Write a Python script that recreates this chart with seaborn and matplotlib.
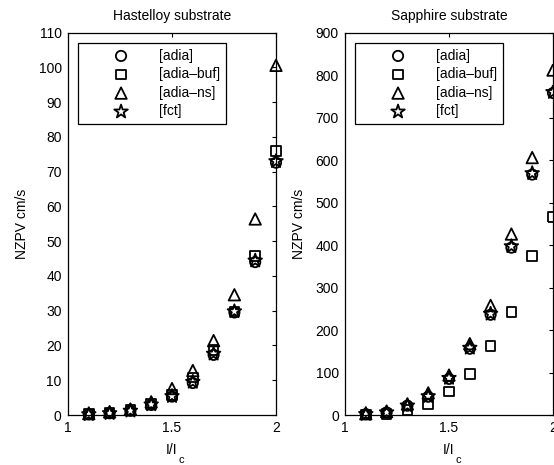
import matplotlib
matplotlib.use("Agg")
import matplotlib.pyplot as plt
import seaborn as sns
import pandas as pd

# ---- data ----
current_ratio = [1.1, 1.2, 1.3, 1.4, 1.5, 1.6, 1.7, 1.8, 1.9, 2.0]

hast_adia     = [0.2, 0.5, 1.2, 2.9, 5.3, 9.2, 17.3, 29.5, 44.0, 72.6]
hast_adia_buf = [0.3, 0.6, 1.4, 3.1, 5.7, 10.8, 18.7, 29.8, 45.8, 76.0]
hast_adia_ns  = [0.4, 0.9, 1.7, 3.8, 7.6, 12.8, 21.4, 34.6, 56.4, 100.6]
hast_fct      = [0.2, 0.5, 1.2, 3.0, 5.4, 9.5, 17.6, 29.8, 44.4, 73.0]

sapp_adia     = [2, 6, 22, 43, 85, 156, 236, 394, 566, 758]
sapp_adia_buf = [1, 3, 12, 26, 55, 97, 163, 242, 374, 466]
sapp_adia_ns  = [3, 8, 26, 52, 94, 168, 258, 426, 606, 812]
sapp_fct      = [2, 6, 22, 44, 87, 158, 238, 397, 569, 760]

series_labels = ["[adia]", "[adia\u2013buf]", "[adia\u2013ns]", "[fct]"]
series_markers = ["o", "s", "^", "*"]
titles = ["Hastelloy substrate", "Sapphire substrate"]
y_limits = [(0, 110), (0, 900)]
y_steps = [10, 100]
x_ticks = [1, 1.5, 2]
x_ticklabels = ["1", "1.5", "2"]

panels = [
    [hast_adia, hast_adia_buf, hast_adia_ns, hast_fct],
    [sapp_adia, sapp_adia_buf, sapp_adia_ns, sapp_fct],
]

# ---- style ----
sns.set_theme(style="white")
plt.rcParams["font.family"] = ["Liberation Sans", "DejaVu Sans"]
plt.rcParams["text.color"] = "black"
plt.rcParams["axes.labelcolor"] = "black"
plt.rcParams["xtick.color"] = "black"
plt.rcParams["ytick.color"] = "black"

FS = 10
fig = plt.figure(figsize=(5.54, 4.65), dpi=100)
W, H = 554, 465
axes_px = [(68, 32.7, 276, 415), (345, 32.7, 553, 415)]

marker_sizes = {"o": 55, "s": 48, "^": 68, "*": 105}

for p, (x0, y0, x1, y1) in enumerate(axes_px):
    ax = fig.add_axes([x0 / W, (H - y1) / H, (x1 - x0) / W, (y1 - y0) / H])
    for vals, lab, mk in zip(panels[p], series_labels, series_markers):
        df = pd.DataFrame({"x": current_ratio, "y": vals})
        sns.scatterplot(data=df, x="x", y="y", ax=ax, marker=mk,
                        s=marker_sizes[mk], facecolors="none",
                        edgecolors="black", linewidth=1.3, label=lab,
                        clip_on=False, zorder=3)
    ax.set_xlim(1, 2)
    ax.set_ylim(*y_limits[p])
    ax.set_xticks(x_ticks)
    ax.set_xticklabels(x_ticklabels)
    lo, hi = y_limits[p]
    ax.set_yticks(list(range(lo, hi + 1, y_steps[p])))
    ax.tick_params(direction="in", top=True, right=True, length=3,
                   width=0.8, labelsize=FS, pad=4.5)
    for sp in ax.spines.values():
        sp.set_color("black")
        sp.set_linewidth(0.9)
    ax.set_title(titles[p], fontsize=FS, pad=9)
    ax.set_xlabel("I/I", fontsize=FS, labelpad=5.5)
    ax.annotate("c", xy=(1, 0), xycoords=ax.xaxis.label, xytext=(0.5, 1.5),
                textcoords="offset points", fontsize=FS - 2, va="top",
                ha="left")
    ax.set_ylabel("NZPV cm/s", fontsize=FS, labelpad=7)
    leg = ax.legend(loc="upper left", bbox_to_anchor=(0.048, 0.973),
                    fontsize=FS, frameon=True, fancybox=False,
                    edgecolor="black", framealpha=1, borderpad=0.4,
                    labelspacing=0.33, handlelength=5.4, handletextpad=0.05,
                    borderaxespad=0, scatterpoints=1)
    leg.get_frame().set_linewidth(0.9)

fig.savefig("out.png", dpi=100, facecolor="white")
